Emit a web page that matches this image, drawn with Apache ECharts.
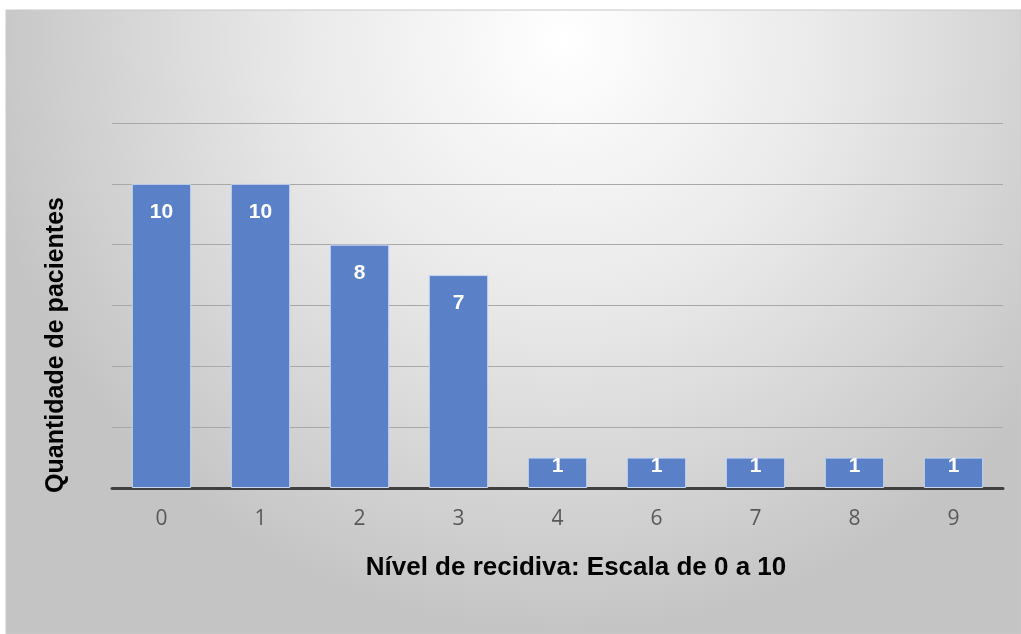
<!DOCTYPE html>
<html><head><meta charset="utf-8">
<script src="https://cdn.jsdelivr.net/npm/echarts@6/dist/echarts.min.js"></script>
<style>html,body{margin:0;padding:0;background:#fff}#c{width:1021px;height:634px}</style>
</head><body><div id="c"></div>
<script>
const categories = ['0','1','2','3','4','6','7','8','9'];
const pacientes = [10,10,8,7,1,1,1,1,1];
const yTicks = [0,2,4,6,8,10,12];

const chart = echarts.init(document.getElementById('c'));
chart.setOption({
  animation:false,
  backgroundColor:'#ffffff',
  graphic:[
    {type:'rect', z:-10, silent:true, shape:{x:6,y:10,width:1015,height:624},
     style:{fill:{type:'radial',x:0.55,y:0.05,r:0.95,colorStops:[{offset:0,color:'#ffffff'},{offset:0.45,color:'#e9e9e9'},{offset:1,color:'#c4c4c4'}]},
       stroke:'#c8c8c8',lineWidth:1}},
    {type:'text', silent:true, x:576, y:568, style:{text:'Nível de recidiva: Escala de 0 a 10',font:'bold 26px "Liberation Sans", Arial',fill:'#000',align:'center',verticalAlign:'middle'}},
    {type:'text', silent:true, rotation:Math.PI/2, x:56, y:345, style:{text:'Quantidade de pacientes',font:'bold 25px "Liberation Sans", Arial',fill:'#000',align:'center',verticalAlign:'middle'}}
  ],
  grid:{left:112,right:18,top:123,bottom:146,containLabel:false},
  xAxis:{type:'category',data:categories,
    axisLine:{lineStyle:{color:'#404040',width:3}},
    axisTick:{show:false},
    axisLabel:{color:'#595959',fontSize:21,margin:21,fontFamily:'"Open Sans", sans-serif'}},
  yAxis:{type:'value',min:yTicks[0],max:yTicks[yTicks.length-1],interval:2,
    axisLabel:{show:false},axisLine:{show:false},axisTick:{show:false},
    splitLine:{lineStyle:{color:'#a8a8a8',width:1}}},
  series:[{type:'bar',barCategoryGap:'40%',
    data:pacientes.map(v=>({value:v,label:{distance:v>2?18:-2}})),
    itemStyle:{color:'#5a80c8',borderColor:'#c9d6ee',borderWidth:1},
    label:{show:true,position:'insideTop',color:'#fff',fontWeight:'bold',fontSize:21,fontFamily:'"Liberation Sans", Arial'}}]
});
</script></body></html>
